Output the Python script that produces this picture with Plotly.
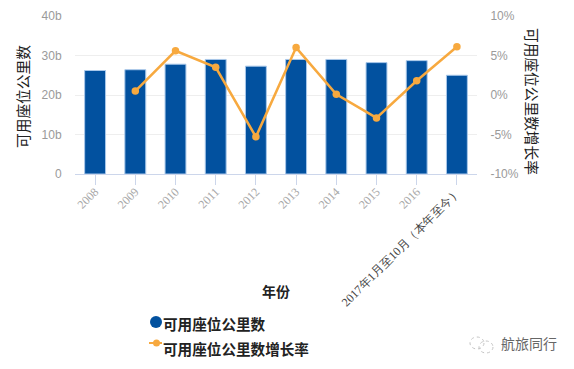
import plotly.graph_objects as go

categories = ["2008", "2009", "2010", "2011", "2012", "2013", "2014", "2015", "2016", "2017年1月至10月（本年至今）"]
seats = [26.2, 26.4, 27.8, 29.0, 27.3, 29.0, 29.0, 28.2, 28.7, 25.0]
growth = [None, 0.5, 5.6, 3.5, -5.3, 6.0, 0.1, -2.9, 1.8, 6.1]
left_ticks = [0, 10, 20, 30, 40]
left_labels = ["0", "10b", "20b", "30b", "40b"]
right_ticks = [-10, -5, 0, 5, 10]
right_labels = ["-10%", "-5%", "0%", "5%", "10%"]

BLUE = "#02519f"
ORANGE = "#f7a93f"
CJK = "Noto Sans CJK SC"
TICK = "Liberation Sans"
W, H = 574, 369
L, R, T, B = 75, 477, 16, 174

def px(x):
    return (x - L) / (R - L)

def py(y):
    return (B - y) / (B - T)

ticktext = categories[:-1] + ['<span style="color:#444">' + categories[-1] + "</span>"]

fig = go.Figure()
fig.add_trace(go.Bar(x=categories, y=seats, name="可用座位公里数", marker=dict(color=BLUE, line=dict(color="#a9c8ea", width=1)), yaxis="y"))
fig.add_trace(go.Scatter(x=categories, y=growth, name="可用座位公里数增长率", mode="lines+markers", yaxis="y2",
                         line=dict(color=ORANGE, width=2.5), marker=dict(color=ORANGE, size=7.5), connectgaps=False))

shapes = [
    dict(type="circle", xref="paper", yref="paper", x0=px(150), x1=px(162), y0=py(328), y1=py(316), fillcolor=BLUE, line=dict(color=BLUE, width=0)),
    dict(type="line", xref="paper", yref="paper", x0=px(149), x1=px(162), y0=py(343), y1=py(343), line=dict(color=ORANGE, width=2)),
    dict(type="circle", xref="paper", yref="paper", x0=px(153), x1=px(160), y0=py(346.5), y1=py(339.5), fillcolor=ORANGE, line=dict(color=ORANGE, width=0)),
    dict(type="circle", xref="paper", yref="paper", x0=px(470), x1=px(484), y0=py(349), y1=py(337), line=dict(color="#c4c4c4", width=1, dash="dot")),
    dict(type="circle", xref="paper", yref="paper", x0=px(479), x1=px(493), y0=py(353), y1=py(341), line=dict(color="#c4c4c4", width=1, dash="dot")),
]
annotations = [
    dict(text="<b>年份</b>", xref="paper", yref="paper", x=px(276), y=py(291), showarrow=False, font=dict(family=CJK, size=14, color="#222"), xanchor="center", yanchor="middle"),
    dict(text="<b>可用座位公里数</b>", xref="paper", yref="paper", x=px(161), y=py(323), showarrow=False, font=dict(family=CJK, size=14.6, color="#222"), xanchor="left", yanchor="middle"),
    dict(text="<b>可用座位公里数增长率</b>", xref="paper", yref="paper", x=px(161), y=py(349), showarrow=False, font=dict(family=CJK, size=14.6, color="#222"), xanchor="left", yanchor="middle"),
    dict(text="航旅同行", xref="paper", yref="paper", x=px(529), y=py(343), showarrow=False, font=dict(family=CJK, size=14, color="#666"), xanchor="center", yanchor="middle"),
    dict(text="可用座位公里数增长率", xref="paper", yref="paper", x=px(533), y=py(101), showarrow=False, textangle=90, font=dict(family=CJK, size=14.7, color="#222"), xanchor="center", yanchor="middle"),
    dict(text="可用座位公里数", xref="paper", yref="paper", x=px(22), y=py(96), showarrow=False, textangle=-90, font=dict(family=CJK, size=14.7, color="#222"), xanchor="center", yanchor="middle"),
]

fig.update_layout(
    width=W, height=H, autosize=False,
    margin=dict(l=L, r=W - R, t=T, b=H - B),
    paper_bgcolor="white", plot_bgcolor="white",
    showlegend=False, bargap=0.48,
    shapes=shapes, annotations=annotations,
    xaxis=dict(type="category", automargin=False, range=[-0.5, 9.5], tickmode="array", tickvals=categories, ticktext=ticktext, tickangle=-45,
               ticks="outside", ticklen=10, tickcolor="#ccd6eb", linecolor="#ccd6eb", showline=True, showgrid=False,
               ticklabelstandoff=-5,
               tickfont=dict(family="Liberation Serif", size=12, color="#a8a8a8")),
    yaxis=dict(range=[0, 40], automargin=False, tickmode="array", tickvals=left_ticks, ticktext=left_labels, gridcolor="#eeeeee", zeroline=False,
               ticks="outside", ticklen=10, tickcolor="rgba(0,0,0,0)",
               tickfont=dict(family=TICK, size=12, color="#9a9a9a")),
    yaxis2=dict(range=[-10, 10], automargin=False, overlaying="y", side="right", tickmode="array", tickvals=right_ticks, ticktext=right_labels,
                showgrid=False, zeroline=False, ticks="outside", ticklen=10, tickcolor="rgba(0,0,0,0)",
                tickfont=dict(family=TICK, size=12, color="#9a9a9a")),
)
fig.write_html("out.html", config={"displayModeBar": False}, post_script="document.body.style.margin='0';")
